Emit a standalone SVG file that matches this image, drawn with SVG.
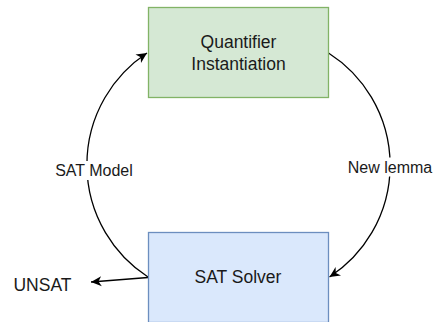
<svg xmlns="http://www.w3.org/2000/svg" width="434" height="322" viewBox="0 0 434 322">
<style>
text{font-family:"Liberation Sans",Arial,sans-serif;fill:#1a1a1a;text-anchor:middle}
.nt{font-size:17.5px}
.et{font-size:16px}
.edge{fill:none;stroke:#000;stroke-width:1.3}
.lbl{fill:#fff}
</style>
<defs>
<marker id="arr" viewBox="-11 -6 12 12" markerWidth="12" markerHeight="12" refX="0" refY="0" orient="auto" markerUnits="userSpaceOnUse">
<path d="M0,0 L-10.5,-5 L-7.5,0 L-10.5,5 Z" fill="#000"/>
</marker>
</defs>
<g id="connectors">
<path class="edge" d="M148,277 A133.8,133.8 0 0 1 147,53" marker-end="url(#arr)"/>
<path class="edge" d="M328.5,53 A133.2,133.2 0 0 1 329.5,277" marker-end="url(#arr)"/>
<path class="edge" d="M148,277.5 L91,282" marker-end="url(#arr)"/>
<rect class="lbl" x="55" y="161" width="78" height="19"/>
<text class="et" x="94" y="175.5">SAT Model</text>
<rect class="lbl" x="348" y="157.5" width="84" height="19"/>
<text class="et" x="390" y="173">New lemma</text>
</g>
<g id="quantifier">
<rect x="148.5" y="7.5" width="180" height="90" fill="#d5e8d4" stroke="#82b366" stroke-width="1.3"/>
<text class="nt" x="238.5" y="48">Quantifier</text>
<text class="nt" x="238.5" y="70">Instantiation</text>
</g>
<g id="satsolver">
<rect x="148.5" y="232.5" width="180" height="90" fill="#dae8fc" stroke="#6c8ebf" stroke-width="1.3"/>
<text class="nt" x="238" y="283">SAT Solver</text>
</g>
<g id="unsat">
<text class="nt" x="42.5" y="291">UNSAT</text>
</g>
</svg>
